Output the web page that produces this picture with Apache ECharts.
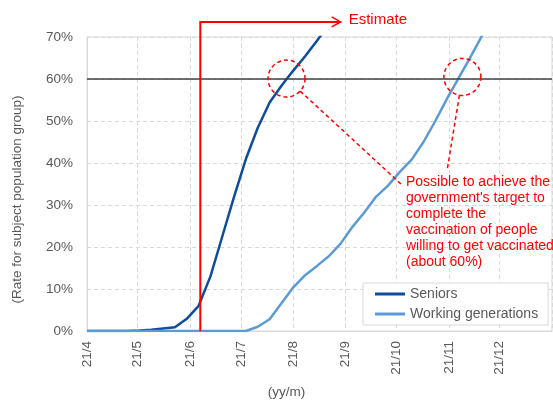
<!DOCTYPE html>
<html>
<head>
<meta charset="utf-8">
<script src="https://cdn.jsdelivr.net/npm/echarts@6/dist/echarts.min.js"></script>
<style>
  html, body { margin: 0; padding: 0; background: #fff; }
  #chart { width: 553px; height: 401px; }
</style>
</head>
<body>
<div id="chart"></div>
<script>
// Weekly vaccination progress (share of each subject population group, %)
const weekDates = [
  '2021-04-01', '2021-04-04', '2021-04-11', '2021-04-18', '2021-04-25',
  '2021-05-02', '2021-05-09', '2021-05-16', '2021-05-23', '2021-05-30',
  '2021-06-06', '2021-06-13', '2021-06-20', '2021-06-27', '2021-07-04',
  '2021-07-11', '2021-07-18', '2021-07-25', '2021-08-01', '2021-08-08',
  '2021-08-15', '2021-08-22', '2021-08-29', '2021-09-05', '2021-09-12',
  '2021-09-19', '2021-09-26', '2021-10-03', '2021-10-10', '2021-10-17',
  '2021-10-24', '2021-10-31', '2021-11-07', '2021-11-14', '2021-11-21',
  '2021-11-28'
];
const seniors = [
  0, 0, 0, 0, 0,
  0.1, 0.3, 0.6, 0.9, 2.9,
  6.0, 13.0, 22.5, 32.0, 41.0,
  48.4, 54.4, 58.4, 62.0, 65.4,
  69.1, 73.0
];
const workingGenerations = [
  0, 0, 0, 0, 0,
  0, 0, 0, 0, 0,
  0, 0, 0, 0, 0,
  1.0, 2.8, 6.6, 10.4, 13.3,
  15.5, 17.8, 20.8, 24.8, 28.2,
  32.0, 34.6, 37.9, 40.8, 45.0,
  50.0, 55.4, 60.4, 65.4, 70.6,
  75.0
];
const seriesNames = ['Seniors', 'Working generations'];
const seriesColors = ['#0f4c9c', '#5b9bd5'];

// Axis ranges
const axisStart = '2021-04-01';
const axisEnd = '2022-01-01';
const rateMin = 0, rateMax = 70, rateStep = 10;

// Annotations
const targetRate = 60;
const estimateStart = '2021-06-07';
const estimateArrowEnd = '2021-08-29';
const estimateLevel = 73.6;
const targetReached = [['2021-07-28', 60.1], ['2021-11-09', 60.5]];
const calloutEnds = [['2021-10-05', 34.5], ['2021-10-31', 38.3]];
const calloutLines = [
  'Possible to achieve the',
  "government's target to",
  'complete the',
  'vaccination of people',
  'willing to get vaccinated',
  '(about 60%)'
];
const estimateText = 'Estimate';
const yTitle = '(Rate for subject population group)';
const xTitle = '(yy/m)';

const FONT = '"Liberation Sans", Arial, sans-serif';
const GRID = '#d9d9d9';
const TEXT = '#595959';
const RED = '#ff0000';
const DAY = 86400000;

const toTime = s => echarts.time.parse(s).getTime();
const pair = (vals) => vals.map((v, i) => [weekDates[i], v]);

const chart = echarts.init(document.getElementById('chart'), null, { renderer: 'canvas' });

const option = {
  animation: false,
  backgroundColor: '#fff',
  grid: {
    left: 87, right: 1, top: 37, bottom: 70,
    show: true, borderColor: GRID, borderWidth: 1
  },
  xAxis: {
    type: 'time',
    min: toTime(axisStart),
    max: toTime(axisEnd),
    minInterval: 28 * DAY,
    maxInterval: 31 * DAY,
    axisLine: { show: true, lineStyle: { color: GRID, width: 1 } },
    axisTick: { show: false },
    splitLine: { show: true, lineStyle: { color: GRID, type: [4, 3], width: 1 } },
    axisLabel: {
      rotate: 90,
      margin: 10,
      color: TEXT,
      fontSize: 13.5,
      fontFamily: FONT,
      showMaxLabel: false,
      hideOverlap: false,
      formatter: function (v) {
        const d = new Date(v);
        return String(d.getFullYear()).slice(2) + '/' + (d.getMonth() + 1);
      }
    }
  },
  yAxis: {
    type: 'value',
    min: rateMin, max: rateMax, interval: rateStep,
    axisLine: { show: true, lineStyle: { color: GRID, width: 1 } },
    axisTick: { show: false },
    splitLine: { show: true, lineStyle: { color: GRID, type: [4, 3], width: 1 } },
    axisLabel: {
      formatter: '{value}%',
      color: TEXT, fontSize: 13.5, fontFamily: FONT, margin: 14
    }
  },
  legend: {
    data: seriesNames,
    orient: 'vertical',
    left: 363, top: 283,
    padding: [3, 10, 3, 12],
    icon: 'rect',
    itemWidth: 30, itemHeight: 3, itemGap: 4,
    backgroundColor: '#fff',
    borderColor: GRID, borderWidth: 1,
    textStyle: { color: TEXT, fontSize: 14, fontFamily: FONT, lineHeight: 16 },
    z: 10
  },
  series: [
    {
      name: seriesNames[0],
      type: 'line',
      data: pair(seniors),
      symbol: 'none',
      clip: true,
      lineStyle: { color: seriesColors[0], width: 2.5 },
      itemStyle: { color: seriesColors[0] },
      markLine: {
        silent: true,
        symbol: 'none',
        label: { show: false },
        lineStyle: { color: '#404040', type: 'solid', width: 1.5 },
        data: [{ yAxis: targetRate }]
      },
      z: 2
    },
    {
      name: seriesNames[1],
      type: 'line',
      data: pair(workingGenerations),
      symbol: 'none',
      clip: true,
      lineStyle: { color: seriesColors[1], width: 2.5 },
      itemStyle: { color: seriesColors[1] },
      z: 3
    }
  ]
};

chart.setOption(option);

// Overlay annotations positioned through the chart's own coordinate system
const px = (d, v) => chart.convertToPixel({ gridIndex: 0 }, [toTime(d), v]);

const base = px(estimateStart, 0);
const corner = px(estimateStart, estimateLevel);
const tip = px(estimateArrowEnd, estimateLevel);
const graphics = [];

graphics.push({
  type: 'polyline', z: 20,
  shape: { points: [base, corner, tip] },
  style: { stroke: RED, lineWidth: 2, fill: null }
});
graphics.push({
  type: 'polyline', z: 20,
  shape: { points: [[tip[0] - 9, tip[1] - 5], tip, [tip[0] - 9, tip[1] + 5]] },
  style: { stroke: RED, lineWidth: 1.5, fill: null }
});
graphics.push({
  type: 'text', z: 20,
  x: tip[0] + 8, y: tip[1] - 2,
  style: { text: estimateText, fill: RED, font: '15px ' + FONT, textVerticalAlign: 'middle' }
});

const R = 18.5;
targetReached.forEach((p, i) => {
  const c = px(p[0], p[1]);
  const e = px(calloutEnds[i][0], calloutEnds[i][1]);
  graphics.push({
    type: 'circle', z: 20,
    shape: { cx: c[0], cy: c[1], r: R },
    style: { fill: null, stroke: RED, lineWidth: 1.5, lineDash: [4, 3] }
  });
  const dx = e[0] - c[0], dy = e[1] - c[1];
  const len = Math.sqrt(dx * dx + dy * dy);
  graphics.push({
    type: 'line', z: 20,
    shape: { x1: c[0] + R * dx / len, y1: c[1] + R * dy / len, x2: e[0], y2: e[1] },
    style: { stroke: RED, lineWidth: 1.5, lineDash: [4, 3] }
  });
});

graphics.push({
  type: 'text', z: 20,
  x: 406, y: 174,
  style: {
    text: calloutLines.join('\n'),
    fill: RED, font: '14px ' + FONT, lineHeight: 16,
    textVerticalAlign: 'top'
  }
});

graphics.push({
  type: 'text', z: 20,
  x: 17, y: 199.5, rotation: Math.PI / 2,
  style: {
    text: yTitle, fill: TEXT, font: '13.5px ' + FONT,
    textAlign: 'center', textVerticalAlign: 'middle'
  }
});
graphics.push({
  type: 'text', z: 20,
  x: 286.5, y: 392,
  style: {
    text: xTitle, fill: TEXT, font: '13.5px ' + FONT,
    textAlign: 'center', textVerticalAlign: 'middle'
  }
});

chart.setOption({ graphic: graphics });
</script>
</body>
</html>
